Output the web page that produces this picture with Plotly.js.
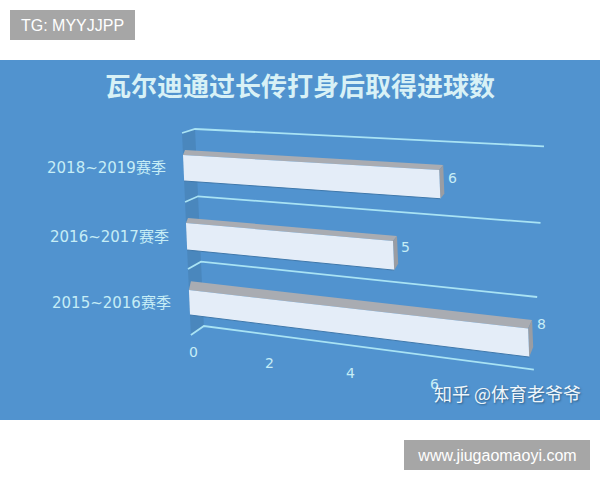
<!DOCTYPE html>
<html>
<head>
<meta charset="utf-8">
<script src="https://cdn.plot.ly/plotly-3.0.1.min.js"></script>
<style>html,body{margin:0;padding:0;background:#fff}#chart{width:600px;height:480px}</style>
</head>
<body>
<div id="chart"></div>
<script>
// ---- chart values ----
var titleText = '瓦尔迪通过长传打身后取得进球数';
var categories = ['2015~2016赛季', '2016~2017赛季', '2018~2019赛季'];
var goals = [8, 5, 6];
var valueTicks = [0, 2, 4, 6];
var watermarkTL = 'TG: MYYJJPP';
var watermarkBR = 'www.jiugaomaoyi.com';
var watermarkZhihu = '知乎 @体育老爷爷';

// ---- fake-3D view of the reference: value/row/depth -> plot coordinates ----
var rowTop = [290, 223, 155];
var rowBottom = [315, 250, 181];
var rowUnit = [42.4, 41.4, 42.7];
var rowLabelShift = [-5, 6, 8];
var gridRows = [133, 202, 269, 335];
var axisMax = 8.23;

function skew(s) { return 0.0586 + 0.000409 * (s - 155); }
function left(s) { return 183 + 0.04375 * (s - 155); }
function wallUnit(s) { return 42.4 - 0.0114 * (s - 133); }
function wallRise(s) { return 4 + 0.0248 * (s - 133); }
function barRise(s) { return 5 + 0.055 * Math.max(s - 223, 0); }
function pt(v, s, unit, dx, dy) {
  return [left(s) + v * unit + dx, s + v * unit * skew(s) - dy];
}
function poly(points, fill, line, width, name) {
  return {
    type: 'scatter', mode: 'lines', hoverinfo: 'skip', showlegend: false, name: name,
    x: points.map(function (p) { return p[0]; }),
    y: points.map(function (p) { return p[1]; }),
    fill: fill ? 'toself' : 'none', fillcolor: fill || undefined,
    line: { color: line || 'rgba(0,0,0,0)', width: width || 0 }
  };
}

var traces = [];
// side wall
var sA = gridRows[0], sB = gridRows[gridRows.length - 1];
traces.push(poly([
  pt(0, sA, 0, 0, 0), pt(0, sA, 0, 13, wallRise(sA)),
  pt(0, sB, 0, 13, wallRise(sB)), pt(0, sB, 0, 0, 0)
], '#4a87bd', null, 0, 'wall'));
// grid lines
gridRows.forEach(function (s) {
  var u = wallUnit(s), r = wallRise(s);
  traces.push(poly([pt(0, s, 0, 0, 0), pt(0, s, u, 13, r), pt(axisMax, s, u, 13, r)],
    null, '#a9e3f4', 1.8, 'grid'));
});
// bars
goals.forEach(function (g, i) {
  var t = rowTop[i], b = rowBottom[i], u = rowUnit[i];
  var rt = barRise(t), rb = barRise(b), dx = 4;
  traces.push(poly([pt(0, t, u, 0, 0), pt(0, t, u, 2, rt), pt(g, t, u, dx, rt), pt(g, t, u, 0, 0)],
    '#a9acb2', null, 0, 'top ' + categories[i]));
  traces.push(poly([pt(g, t, u, 0, 0), pt(g, t, u, dx, rt), pt(g, b, u, dx, rb), pt(g, b, u, 0, 0)],
    '#9a9da3', null, 0, 'side ' + categories[i]));
  traces.push(poly([pt(0, t, u, 0, 0), pt(g, t, u, 0, 0), pt(g, b, u, 0, 0), pt(0, b, u, 0, 0)],
    '#e4edf8', null, 0, 'front ' + categories[i]));
  traces.push(poly([pt(0, b, u, 0, 0), pt(g, b, u, 0, 0)], null, '#3f78ab', 1, 'edge ' + categories[i]));
});

var cjk = '"DejaVu Sans","Noto Sans CJK SC",sans-serif';
var ink = '#c6edf6';
var annotations = [];
function label(text, x, y, size, anchor, color, shadow, family) {
  annotations.push({
    text: text, x: x, y: y, xref: 'x', yref: 'y', showarrow: false,
    xanchor: anchor || 'center', yanchor: 'middle',
    font: { family: family || cjk, size: size, color: color || ink, shadow: shadow || 'none' }
  });
}
categories.forEach(function (c, i) {
  var mid = (rowTop[i] + rowBottom[i]) / 2;
  label(c, left(mid) - 16, mid, 15, 'right');
  var e = pt(goals[i], rowTop[i], rowUnit[i], 0, 0);
  label(String(goals[i]), e[0] + 13, e[1] + rowLabelShift[i], 14);
});
valueTicks.forEach(function (v) {
  label(String(v), 193 + 37.3 * v + 0.5 * v * v, 352 + 5.33 * v, 14);
});
label(watermarkZhihu, 583, 393, 18, 'right', '#eef6fb', '1px 1px 2px #2f5f88', '"Noto Sans CJK SC",sans-serif');

function box(text, px, py, w, h) {
  annotations.push({
    text: text, x: px / 600, y: (420 - py) / 360, xref: 'paper', yref: 'paper',
    xanchor: 'left', yanchor: 'middle', showarrow: false, width: w, height: h, align: 'center',
    valign: 'middle', bgcolor: '#a6a6a6', borderpad: 0, borderwidth: 0,
    font: { family: '"Liberation Sans",Arial,sans-serif', size: 16, color: '#ffffff' }
  });
}
box(watermarkTL, 10, 25, 125, 30);
box(watermarkBR, 404, 455, 186, 30);

var layout = {
  width: 600, height: 480,
  margin: { l: 0, r: 0, t: 60, b: 60, pad: 0 },
  paper_bgcolor: '#ffffff', plot_bgcolor: '#5193cf',
  title: {
    text: titleText, x: 0.5, xref: 'paper', xanchor: 'center',
    y: 1 - 87 / 480, yref: 'container', yanchor: 'middle',
    font: { family: '"Noto Sans CJK SC",sans-serif', size: 26, weight: 700, color: '#d8f1f6' }
  },
  xaxis: { range: [0, 600], visible: false, fixedrange: true },
  yaxis: { range: [420, 60], visible: false, fixedrange: true },
  annotations: annotations,
  showlegend: false
};
Plotly.newPlot('chart', traces, layout, { displayModeBar: false, staticPlot: true });
</script>
</body>
</html>
